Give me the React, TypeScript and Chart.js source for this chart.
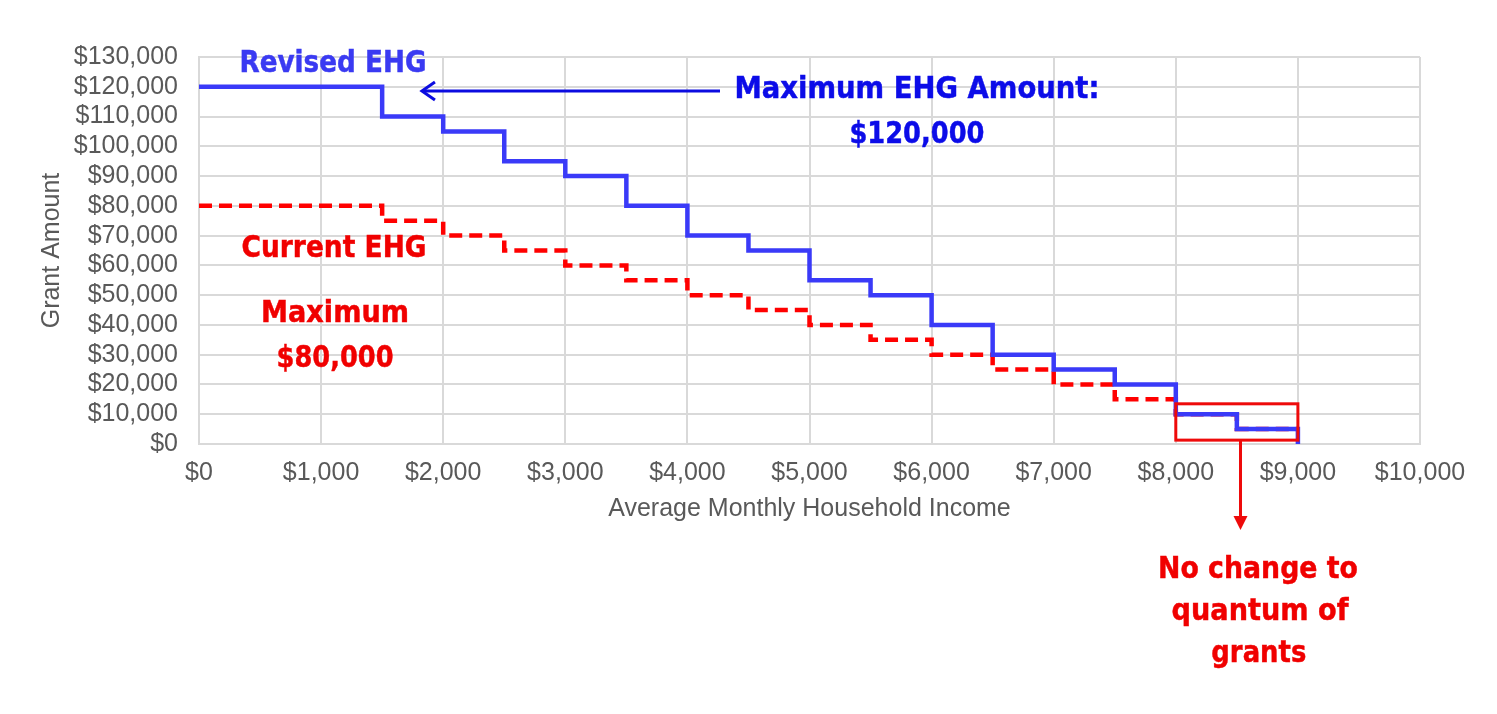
import React, { useEffect, useRef } from "react";
import { Chart, registerables } from "chart.js";

Chart.register(...registerables);

// ---- data ----
const incomeSteps = [0, 1500, 2000, 2500, 3000, 3500, 4000, 4500, 5000, 5500, 6000, 6500, 7000, 7500, 8000, 8500, 9000];
const revisedGrant = [120000, 110000, 105000, 95000, 90000, 80000, 70000, 65000, 55000, 50000, 40000, 30000, 25000, 20000, 10000, 5000, 0];
const currentGrant = [80000, 75000, 70000, 65000, 60000, 55000, 50000, 45000, 40000, 35000, 30000, 25000, 20000, 15000, 10000, 5000, 5000];
const xAxisTitle = "Average Monthly Household Income";
const yAxisTitle = "Grant Amount";

const money = (v: number) => "$" + String(Math.round(v)).replace(/\B(?=(\d{3})+(?!\d))/g, ",");

const AX_FONT = "'Liberation Sans', Arial, sans-serif";
const NOTE_FONT = "'DejaVu Sans', Verdana, sans-serif";

const annotationPlugin = {
  id: "ehgAnnotations",
  afterDatasetsDraw(chart: any) {
    const { ctx } = chart;
    const xs = chart.scales.x;
    const ys = chart.scales.y;
    const px = (v: number) => xs.getPixelForValue(v);
    const py = (v: number) => ys.getPixelForValue(v);

    const text = (s: string, xv: number, yv: number, color: string, width: number) => {
      ctx.save();
      ctx.font = `bold 31px ${NOTE_FONT}`;
      ctx.fillStyle = color;
      ctx.strokeStyle = color;
      ctx.lineWidth = 0.5;
      ctx.textAlign = "center";
      ctx.textBaseline = "alphabetic";
      const w = ctx.measureText(s).width;
      const k = width / w;
      ctx.translate(px(xv), py(yv));
      ctx.scale(k, 1);
      ctx.fillText(s, 0, 0);
      ctx.strokeText(s, 0, 0);
      ctx.restore();
    };

    // blue notes
    text("Revised EHG", 1097, 125000, "#3a3af2", 187);
    text("Maximum EHG Amount:", 5880, 116230, "#0c0ce8", 365);
    text("$120,000", 5880, 101110, "#0c0ce8", 135);

    // blue arrow
    ctx.save();
    ctx.strokeStyle = "#0c0ce0";
    ctx.lineWidth = 3;
    const ay = py(118580);
    const ax0 = px(4267);
    const ax1 = px(1826);
    ctx.beginPath();
    ctx.moveTo(ax0, ay);
    ctx.lineTo(ax1 + 1, ay);
    ctx.stroke();
    ctx.beginPath();
    ctx.moveTo(ax1 + 13, ay - 9);
    ctx.lineTo(ax1, ay);
    ctx.lineTo(ax1 + 13, ay + 9);
    ctx.stroke();
    ctx.restore();

    // red notes
    text("Current EHG", 1106, 62820, "#f00000", 185);
    text("Maximum", 1114, 40980, "#f00000", 148);
    text("$80,000", 1114, 25870, "#f00000", 117);

    // red box
    ctx.save();
    ctx.strokeStyle = "#ee0a0a";
    ctx.lineWidth = 3;
    const bx0 = px(8000), bx1 = px(9000), by0 = py(13500), by1 = py(1300);
    ctx.strokeRect(bx0, by0, bx1 - bx0, by1 - by0);
    // red arrow down
    const rx = px(8530);
    const rtip = py(-28890);
    ctx.beginPath();
    ctx.moveTo(rx, by1);
    ctx.lineTo(rx, rtip - 12);
    ctx.stroke();
    ctx.fillStyle = "#ee0a0a";
    ctx.beginPath();
    ctx.moveTo(rx - 7, rtip - 14);
    ctx.lineTo(rx + 7, rtip - 14);
    ctx.lineTo(rx, rtip);
    ctx.closePath();
    ctx.fill();
    ctx.restore();

    text("No change to", 8673, -45010, "#f00000", 200);
    text("quantum of", 8690, -59120, "#f00000", 177);
    text("grants", 8680, -73130, "#f00000", 95);
  },
};

export default function App() {
  const ref = useRef<HTMLCanvasElement | null>(null);

  useEffect(() => {
    if (!ref.current) return;
    const chart = new Chart(ref.current, {
      type: "line",
      data: {
        datasets: [
          {
            label: "Revised EHG",
            data: incomeSteps.map((x, i) => ({ x, y: revisedGrant[i] })),
            borderColor: "#3a3af8",
            borderWidth: 4.5,
            stepped: "before",
            pointRadius: 0,
            fill: false,
          },
          {
            label: "Current EHG",
            data: incomeSteps.map((x, i) => ({ x, y: currentGrant[i] })),
            borderColor: "#ff0000",
            borderWidth: 4.5,
            borderDash: [13, 7],
            stepped: "before",
            pointRadius: 0,
            fill: false,
          },
        ],
      },
      options: {
        animation: false,
        responsive: true,
        maintainAspectRatio: false,
        layout: { padding: { top: 57, right: 77, bottom: 170, left: 0 } },
        plugins: { legend: { display: false }, tooltip: { enabled: false } },
        scales: {
          x: {
            type: "linear",
            min: 0,
            max: 10000,
            afterFit: (s: any) => {
              s.height = 100;
            },
            grid: { color: "#d9d9d9", lineWidth: 2, drawTicks: false },
            border: { display: true, color: "#d9d9d9", width: 2 },
            ticks: {
              stepSize: 1000,
              autoSkip: false,
              maxRotation: 0,
              padding: 14,
              color: "#595959",
              font: { family: AX_FONT, size: 25 },
              callback: (v: any) => money(Number(v)),
            },
            title: {
              display: true,
              text: xAxisTitle,
              color: "#595959",
              font: { family: AX_FONT, size: 25 },
              padding: { top: 0, bottom: 20 },
            },
          },
          y: {
            type: "linear",
            min: 0,
            max: 130000,
            afterFit: (s: any) => {
              s.width = 199;
            },
            grid: { color: "#d9d9d9", lineWidth: 2, drawTicks: false },
            border: { display: true, color: "#d9d9d9", width: 2 },
            ticks: {
              stepSize: 10000,
              maxTicksLimit: 20,
              autoSkip: false,
              padding: 21,
              color: "#595959",
              font: { family: AX_FONT, size: 25 },
              callback: (v: any) => money(Number(v)),
            },
            title: {
              display: true,
              text: yAxisTitle,
              color: "#595959",
              font: { family: AX_FONT, size: 25 },
              padding: { top: 37, bottom: 0 },
            },
          },
        },
      },
      plugins: [annotationPlugin],
    } as any);
    return () => chart.destroy();
  }, []);

  return (
    <div style={{ position: "absolute", left: 0, top: 0, width: 1497, height: 714, background: "#ffffff" }}>
      <canvas ref={ref} />
    </div>
  );
}
